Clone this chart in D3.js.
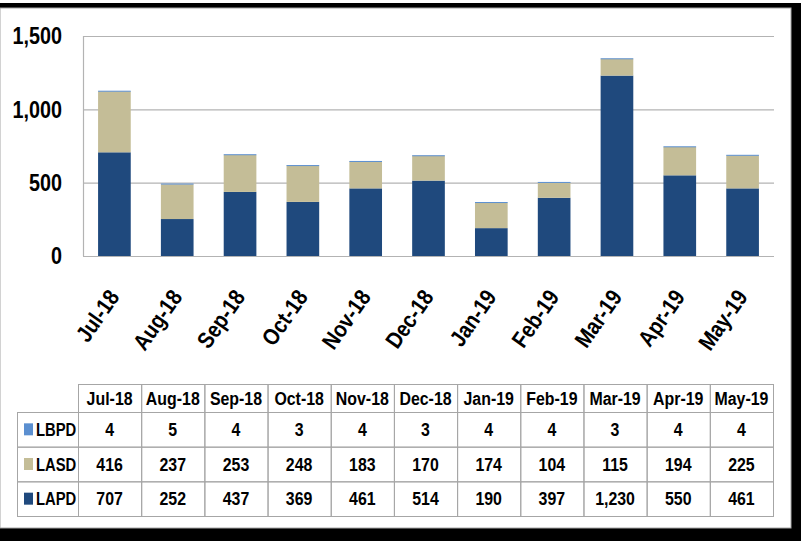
<!DOCTYPE html>
<html>
<head>
<meta charset="utf-8">
<script src="https://cdn.jsdelivr.net/npm/d3@7"></script>
<style>
  body { margin: 0; background: #fff; }
  svg { display: block; }
  text { font-family: "Liberation Sans", Arial, sans-serif; font-weight: bold; fill: #000; }
</style>
</head>
<body>
<script>
// chart values
const months = ['Jul-18', 'Aug-18', 'Sep-18', 'Oct-18', 'Nov-18', 'Dec-18', 'Jan-19', 'Feb-19', 'Mar-19', 'Apr-19', 'May-19'];
const lbpd = [4, 5, 4, 3, 4, 3, 4, 4, 3, 4, 4];
const lasd = [416, 237, 253, 248, 183, 170, 174, 104, 115, 194, 225];
const lapd = [707, 252, 437, 369, 461, 514, 190, 397, 1230, 550, 461];
const yTicks = [0, 500, 1000, 1500];

const seriesNames = ['LAPD', 'LASD', 'LBPD'];
const seriesValues = { LAPD: lapd, LASD: lasd, LBPD: lbpd };
const colors = { LAPD: '#1f497d', LASD: '#c4bd97', LBPD: '#5b8fd0' };

const width = 801, height = 541;
const squeeze = 0.86; // text in the picture is narrow, like Calibri

const svg = d3.select('body').append('svg')
    .attr('width', width)
    .attr('height', height);

// frame with dark shadow edges
svg.append('rect').attr('x', 0).attr('y', 3).attr('width', width).attr('height', height - 3).attr('fill', '#000');
svg.append('rect').attr('x', 0).attr('y', 8).attr('width', 791).attr('height', 520).attr('fill', '#fff')
    .attr('stroke', '#a6a6a6').attr('stroke-width', 1);

const table = months.map((m, i) => {
    const row = { month: m };
    seriesNames.forEach(s => row[s] = seriesValues[s][i]);
    return row;
});

const stacked = d3.stack().keys(seriesNames)(table);

const x = d3.scaleBand()
    .domain(months)
    .range([83, 774])
    .paddingInner(0.48)
    .paddingOuter(0.24);

const y = d3.scaleLinear()
    .domain([0, 1500])
    .range([256, 36]);

// gridlines
svg.append('g')
    .selectAll('line')
    .data(yTicks)
    .join('line')
    .attr('x1', 83)
    .attr('x2', 774)
    .attr('y1', d => y(d) + 0.5)
    .attr('y2', d => y(d) + 0.5)
    .attr('stroke', '#b3b3b3')
    .attr('stroke-width', 1.2);

// y axis line
svg.append('line')
    .attr('x1', 83.5).attr('x2', 83.5)
    .attr('y1', y(1500)).attr('y2', y(0))
    .attr('stroke', '#b3b3b3')
    .attr('stroke-width', 1.2);

// y labels
svg.append('g')
    .selectAll('text')
    .data(yTicks)
    .join('text')
    .attr('transform', d => `translate(62,${y(d)}) scale(${squeeze},1)`)
    .attr('dy', '0.36em')
    .attr('text-anchor', 'end')
    .style('font-size', '23px')
    .text(d3.format(','));

// bars
svg.append('g')
    .selectAll('g')
    .data(stacked)
    .join('g')
    .attr('fill', d => colors[d.key])
    .selectAll('rect')
    .data(d => d)
    .join('rect')
    .attr('x', d => x(d.data.month))
    .attr('y', d => y(d[1]))
    .attr('width', x.bandwidth())
    .attr('height', d => Math.max(y(d[0]) - y(d[1]), 1));

// rotated month labels
svg.append('g')
    .selectAll('text')
    .data(months)
    .join('text')
    .attr('transform', d => `translate(${x(d) + x.bandwidth() / 2 + 6},${297}) rotate(-55) scale(${squeeze},1)`)
    .attr('text-anchor', 'end')
    .style('font-size', '23px')
    .text(d => d);

// data table
const tx = d3.scaleBand().domain(months).range([78, 773]);
const headerTop = 384, headerBottom = 412;
const rowOrder = ['LBPD', 'LASD', 'LAPD'];
const ty = d3.scaleBand().domain(rowOrder).range([headerBottom, 516]);
const rowLeft = 17;
const gridColor = '#a6a6a6';

const tbl = svg.append('g');

// header cells
tbl.selectAll('.hcell')
    .data(months)
    .join('rect')
    .attr('x', d => tx(d) + 0.5)
    .attr('y', headerTop + 0.5)
    .attr('width', tx.bandwidth())
    .attr('height', headerBottom - headerTop)
    .attr('fill', 'none')
    .attr('stroke', gridColor);

tbl.selectAll('.htext')
    .data(months)
    .join('text')
    .attr('transform', d => `translate(${tx(d) + tx.bandwidth() / 2},${(headerTop + headerBottom) / 2}) scale(${squeeze},1)`)
    .attr('dy', '0.36em')
    .attr('text-anchor', 'middle')
    .style('font-size', '18.5px')
    .text(d => d);

// row header cells with legend keys
rowOrder.forEach(s => {
    const r = tbl.append('g');
    const mid = ty(s) + ty.bandwidth() / 2;
    r.append('rect')
        .attr('x', rowLeft + 0.5)
        .attr('y', ty(s) + 0.5)
        .attr('width', tx.range()[0] - rowLeft)
        .attr('height', ty.bandwidth())
        .attr('fill', 'none')
        .attr('stroke', gridColor);
    r.append('rect')
        .attr('x', 24)
        .attr('y', mid - 6)
        .attr('width', 9)
        .attr('height', 12)
        .attr('fill', colors[s]);
    r.append('text')
        .attr('transform', `translate(36,${mid}) scale(0.8,1)`)
        .attr('dy', '0.36em')
        .style('font-size', '18.5px')
        .text(s);

    r.selectAll('.cell')
        .data(table)
        .join('rect')
        .attr('x', d => tx(d.month) + 0.5)
        .attr('y', ty(s) + 0.5)
        .attr('width', tx.bandwidth())
        .attr('height', ty.bandwidth())
        .attr('fill', 'none')
        .attr('stroke', gridColor);

    r.selectAll('.val')
        .data(table)
        .join('text')
        .attr('transform', d => `translate(${tx(d.month) + tx.bandwidth() / 2},${mid}) scale(${squeeze},1)`)
        .attr('dy', '0.36em')
        .attr('text-anchor', 'middle')
        .style('font-size', '18.5px')
        .text(d => d3.format(',')(d[s]));
});
</script>
</body>
</html>
